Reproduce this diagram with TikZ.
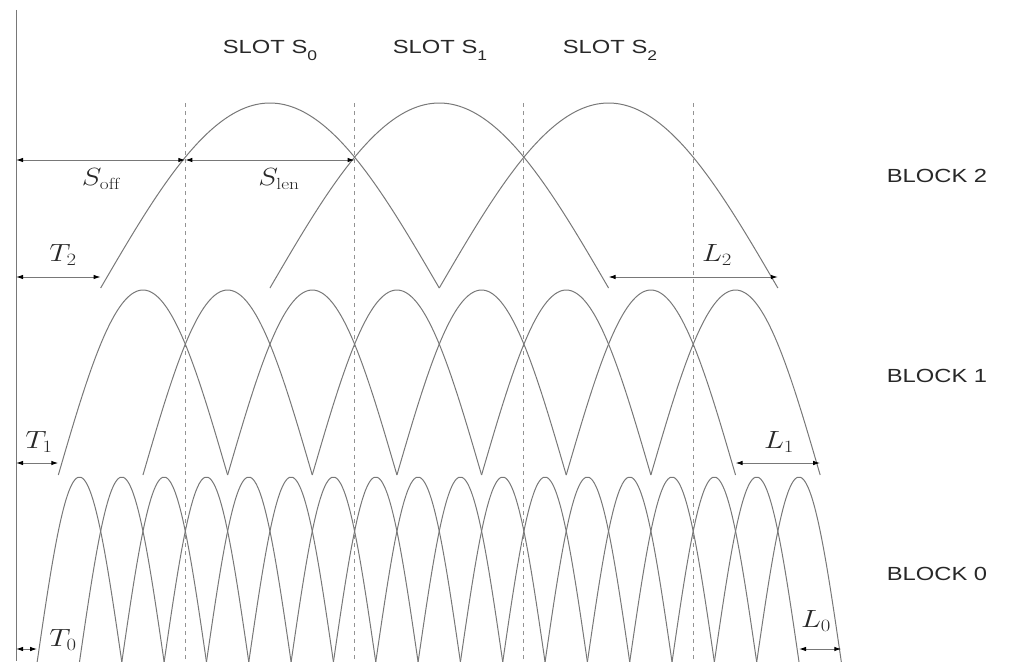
\documentclass[tikz,border=0pt]{standalone}
\usepackage{fontspec}
\newfontfamily\lab{Liberation Sans}
\usetikzlibrary{arrows.meta}
\definecolor{curve}{RGB}{120,120,120}
\definecolor{txt}{RGB}{40,40,40}
\tikzset{
  arch/.style={draw=curve, line width=1pt},
  slotline/.style={draw=curve!80, line width=1pt, dash pattern=on 4pt off 4pt},
  dim/.style={draw=curve, line width=1pt,
    {Latex[black,length=7pt,width=4.5pt]}-{Latex[black,length=7pt,width=4.5pt]}},
  mlab/.style={inner sep=0pt, text=txt, font=\fontsize{23}{24}\selectfont},
  slab/.style={inner sep=0pt, text=txt, font=\lab\fontsize{19}{20}\selectfont}
}
\newcommand{\hs}[1]{\scalebox{1.25}[1]{#1}}
\newcommand{\hm}[1]{\scalebox{1.2}[1]{#1}}
\begin{document}
\begin{tikzpicture}[x=1pt,y=-1pt]
\useasboundingbox (0,0) rectangle (1014,661);
\pgfmathsetmacro{\s}{169.3}
\pgfmathsetmacro{\xo}{16}
% axis
\draw[draw=curve, line width=1pt] (16,10) -- (16,661);
% slot boundaries
\foreach \k in {1,...,4}{
  \draw[slotline] ({\xo+\k*\s},103) -- ({\xo+\k*\s},661);
}
% block 2: 3 arches, half-width s
\foreach \k in {0,...,2}{
  \pgfmathsetmacro{\c}{\xo+\s/2+\s+\k*\s}
  \draw[arch] plot[domain={\c-\s}:{\c+\s}, samples=60, smooth] (\x,{288-185*cos(90*(\x-\c)/\s)});
}
% block 1: 8 arches, half-width s/2
\foreach \k in {0,...,7}{
  \pgfmathsetmacro{\h}{\s/2}
  \pgfmathsetmacro{\c}{\xo+\s/4+\h+\k*\h}
  \draw[arch] plot[domain={\c-\h}:{\c+\h}, samples=40, smooth] (\x,{475-185*cos(90*(\x-\c)/\h)});
}
% block 0: 18 arches, half-width s/4
\foreach \k in {0,...,17}{
  \pgfmathsetmacro{\h}{\s/4}
  \pgfmathsetmacro{\c}{\xo+\s/8+\h+\k*\h}
  \draw[arch] plot[domain={\c-\h}:{\c+\h}, samples=30, smooth] (\x,{662-185*cos(90*(\x-\c)/\h)});
}
% dimension coordinates
\coordinate (a0) at (16,160);
\coordinate (a1) at ({\xo+\s},160);
\coordinate (a2) at ({\xo+2*\s},160);
\coordinate (t2a) at (16,277);
\coordinate (t2b) at ({\xo+\s/2},277);
\coordinate (l2a) at ({\xo+3.5*\s},277);
\coordinate (l2b) at ({\xo+4.5*\s},277);
\coordinate (t1a) at (16,463);
\coordinate (t1b) at ({\xo+\s/4},463);
\coordinate (l1a) at ({\xo+\s/4+4*\s},463);
\coordinate (l1b) at ({\xo+\s/4+4.5*\s},463);
\coordinate (t0a) at (16,649);
\coordinate (t0b) at ({\xo+\s/8},649);
\coordinate (l0a) at ({\xo+\s/8+4.5*\s},649);
\coordinate (l0b) at ({\xo+\s/8+4.75*\s},649);
\draw[dim] (a0) -- (a1);
\draw[dim] (a1) -- (a2);
\draw[dim] (t2a) -- (t2b);
\draw[dim] (l2a) -- (l2b);
\draw[dim] (t1a) -- (t1b);
\draw[dim] (l1a) -- (l1b);
\draw[dim] (t0a) -- (t0b);
\draw[dim] (l0a) -- (l0b);
% math labels
\node[mlab] (soff) at (101,179) {\hm{$S_{\mathrm{off}}$}};
\node[mlab] (slen) at (279,179) {\hm{$S_{\mathrm{len}}$}};
\node[mlab] (T2) at (63,255) {\hm{$T_2$}};
\node[mlab] (L2) at (717,255) {\hm{$L_2$}};
\node[mlab] (T1) at (39,442) {\hm{$T_1$}};
\node[mlab] (L1) at (779,442) {\hm{$L_1$}};
\node[mlab] (T0) at (63,640) {\hm{$T_0$}};
\node[mlab] (L0) at (816,621) {\hm{$L_0$}};
% slot labels
\node[slab, anchor=base] (s0) at (270,53) {\hs{SLOT S\raisebox{-0.4em}{\fontsize{14}{14}\selectfont 0}}};
\node[slab, anchor=base] (s1) at (440,53) {\hs{SLOT S\raisebox{-0.4em}{\fontsize{14}{14}\selectfont 1}}};
\node[slab, anchor=base] (s2) at (610,53) {\hs{SLOT S\raisebox{-0.4em}{\fontsize{14}{14}\selectfont 2}}};
% block labels
\node[slab, anchor=base] (b2) at (937,182) {\hs{BLOCK 2}};
\node[slab, anchor=base] (b1) at (937,382) {\hs{BLOCK 1}};
\node[slab, anchor=base] (b0) at (937,580) {\hs{BLOCK 0}};
\end{tikzpicture}
\end{document}
